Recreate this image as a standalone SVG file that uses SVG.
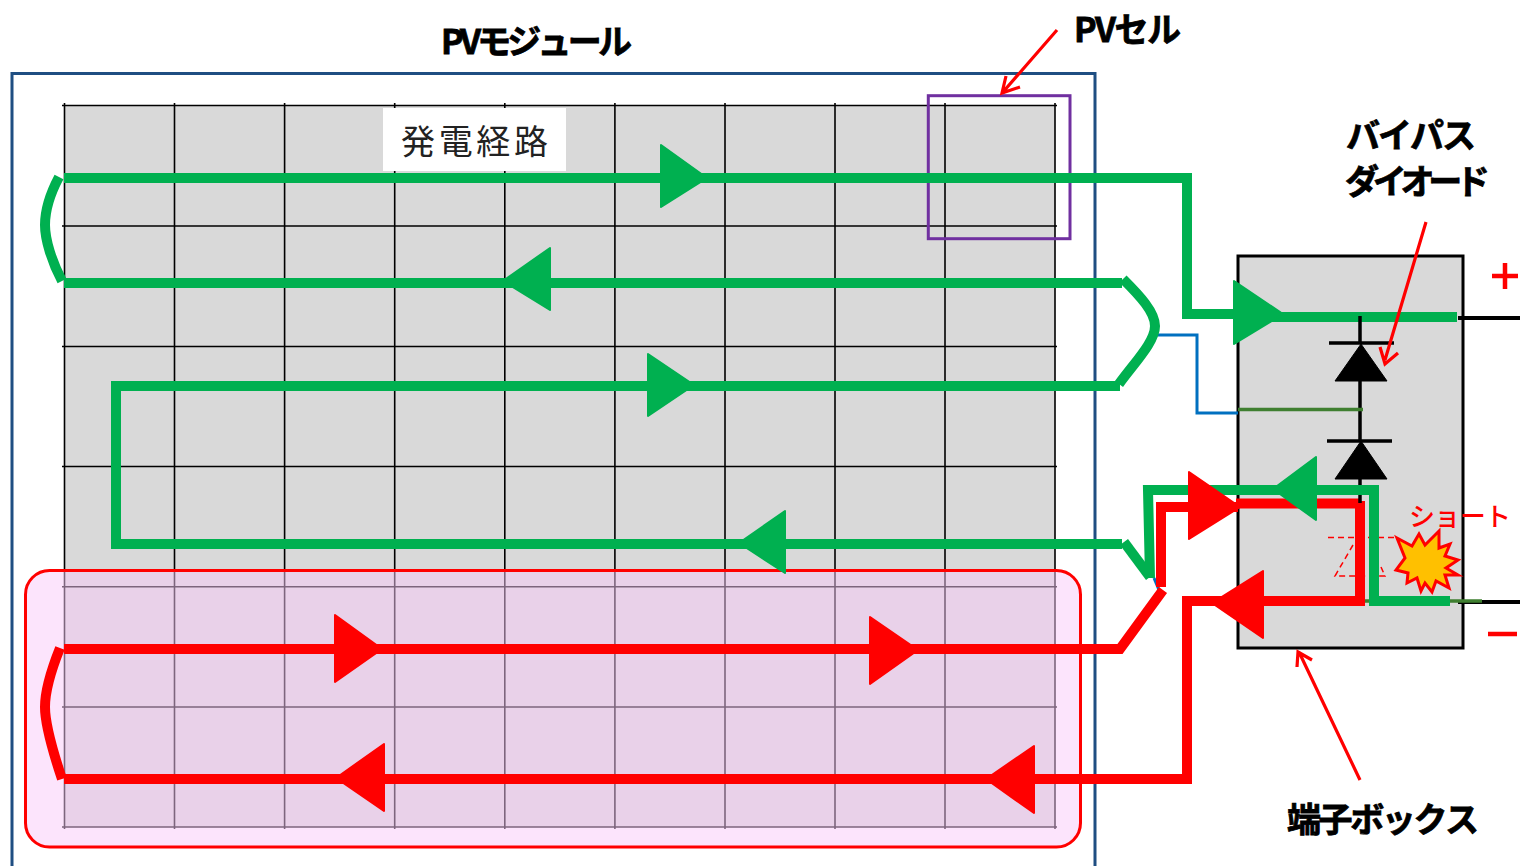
<svg xmlns="http://www.w3.org/2000/svg" width="1520" height="866" viewBox="0 0 1520 866">
<style>
text{font-family:"Noto Sans CJK JP","Liberation Sans",sans-serif;font-kerning:none}
.lbl{font-size:34px;font-weight:700;fill:#000;stroke:#000;stroke-width:.8px}
.g{fill:none;stroke:#00b050;stroke-width:10}
.r{fill:none;stroke:#ff0000;stroke-width:10}
.ga{fill:#00b050;stroke:#00b050;stroke-width:2;stroke-linejoin:round}
.ra{fill:#ff0000;stroke:#ff0000;stroke-width:2;stroke-linejoin:round}
.grid{stroke:#000;stroke-width:1.6;fill:none}
.note{fill:none;stroke:#ff0000;stroke-width:3.2}
</style>
<rect width="1520" height="866" fill="#fff"/>
<g id="module"><path d="M12 866V73.500H1095V866" fill="none" stroke="#1f4e82" stroke-width="3"/></g>
<g id="cells">
<rect x="64.500" y="105.500" width="990.500" height="721.500" fill="#d9d9d9"/>
<path class="grid" d="M64.500 103V829M174.500 103V829M284.600 103V829M394.700 103V829M504.800 103V829M614.900 103V829M725 103V829M835 103V829M945 103V829M1055 103V829M62 105.500H1057M62 226H1057M62 346.500H1057M62 466.500H1057M62 586.700H1057M62 707H1057M62 827H1057"/>
</g>
<g id="label-power"><rect x="383" y="108" width="183" height="63" fill="#fff"/><text x="401" y="154" font-size="34" textLength="147" fill="#222">発電経路</text></g>
<g id="short-area"><rect x="25.500" y="570.500" width="1055" height="276.500" rx="24" fill="#f9c9f9" fill-opacity=".5" stroke="#ff0000" stroke-width="3"/></g>
<g id="cell-highlight"><rect x="928.300" y="95.700" width="141.700" height="143" fill="none" stroke="#7030a0" stroke-width="3"/></g>
<g id="junction-box">
<rect x="1238" y="256" width="225" height="392" fill="#d9d9d9" stroke="#000" stroke-width="3"/>
<path d="M1458 318H1520M1458 602H1520" stroke="#000" stroke-width="4"/>
<path d="M1329 343H1394M1327 441H1392" stroke="#000" stroke-width="3.500"/>
<path d="M1361 344L1387 381H1335ZM1361 441L1387 479H1335Z" fill="#000" stroke="#000" stroke-width="1"/>
<path d="M1158 335H1197V413H1238" fill="none" stroke="#0070c0" stroke-width="3"/>
<path d="M1154 578L1159 590" fill="none" stroke="#0070c0" stroke-width="3"/>
<path d="M1328 537.500H1397M1353 545L1335 576H1385L1381 567" fill="none" stroke="#ff0000" stroke-width="1.500" stroke-dasharray="6 4"/>
<path d="M1364 601H1378M1450 601H1482" stroke="#3f7f30" stroke-width="3.500"/>
</g>
<g id="connectors">
<g id="red-path">
<path class="r" d="M1161 587V507H1238"/>
<path class="r" d="M1236 503.500H1360M1360 501V606"/>
<path class="r" d="M1163 590L1120 649H64"/>
<path class="r" d="M60 648C52 668 45 690 45 707C45 725 53 752 62 779"/>
<path class="r" d="M64 779H1187V601H1360"/>
</g>
<g id="green-path">
<path class="g" d="M64 178H1187V314H1270"/>
<path class="g" d="M1270 317H1457"/>
<path class="g" d="M59 177C50 194 45 212 45 225C45 240 52 262 62 281"/>
<path class="g" d="M64 283H1122"/>
<path class="g" d="M1123 279C1140 296 1155 312 1155 326C1155 342 1135 362 1119 384"/>
<path class="g" d="M1120 386H116V544H1122"/>
<path class="g" d="M1124 542L1150 577"/>
<path class="g" d="M1150 578L1148 490H1374V601H1450"/>
</g>
<polygon class="ra" points="1189,472 1240,507 1189,539"/>
<polygon class="ga" points="1316,457 1273,489 1316,520"/>
<polygon class="ga" points="661,145 707,178 661,207"/>
<polygon class="ga" points="550,248 503,281 550,310"/>
<polygon class="ga" points="648,354 694,385 648,416"/>
<polygon class="ga" points="785,511 739,543 785,573"/>
<polygon class="ga" points="1234,281 1283,314 1234,344"/>
<polygon class="ra" points="335,615 382,649 335,682"/>
<polygon class="ra" points="870,617 918,650 870,684"/>
<polygon class="ra" points="384,744 336,778 384,811"/>
<polygon class="ra" points="1034,746 986,779 1034,813"/>
<polygon class="ra" points="1263,571 1212,603 1263,638"/>
</g>
<g id="diode-wire">
<path d="M1360 316V343M1360 381V441M1360 479V485M1360 495V503" stroke="#000" stroke-width="3.500"/>
<path d="M1238 409.500H1363" stroke="#3f7f30" stroke-width="3.500"/>
</g>
<g id="burst"><polygon points="1397,538 1412,546 1419,534 1425,545 1439,531 1439,548 1450,544 1445,556 1458,560 1446,568 1458,575 1445,575 1449,588 1436,581 1432,592 1425,583 1421,591 1417,578 1407,583 1408,573 1396,570 1405,558" fill="#ffc000" stroke="#ff0000" stroke-width="3"/></g>
<g id="leaders">
<path class="note" d="M1057 30L1003 92M1020 87L1002 93L1006 76"/>
<path class="note" d="M1426 222L1385 360M1380 347L1385 364L1398 353"/>
<path class="note" d="M1360 780L1299 652M1297 667L1298 652L1312 660"/>
</g>
<g id="labels">
<text class="lbl" x="441" y="54" textLength="191">PVモジュール</text>
<text class="lbl" x="1074" y="42" textLength="107">PVセル</text>
<text class="lbl" x="1346" y="148" textLength="130">バイパス</text>
<text class="lbl" x="1345" y="194" textLength="145">ダイオード</text>
<text class="lbl" x="1287" y="832" textLength="192">端子ボックス</text>
<text x="1409" y="526" font-size="26" font-weight="500" fill="#ff0000" textLength="102">ショート</text>
<path d="M1492 276H1518M1505 263V289M1488 634H1517" stroke="#ff0000" stroke-width="4.500" fill="none"/>
</g>
</svg>
